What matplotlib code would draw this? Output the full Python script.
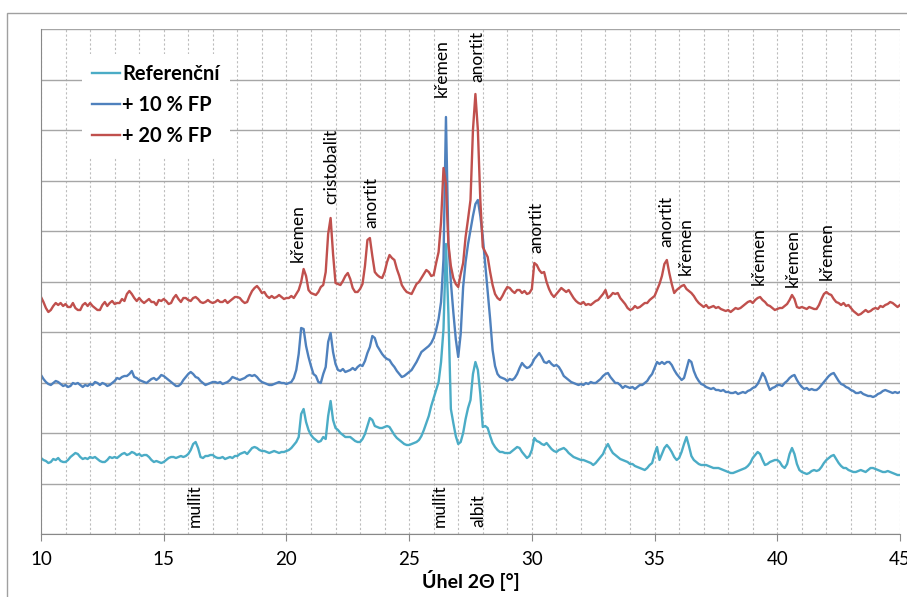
import matplotlib
matplotlib.use("Agg")
import matplotlib.pyplot as plt
from matplotlib.patches import Rectangle
import numpy as np

plt.rcParams["font.family"] = ["Lato", "DejaVu Sans"]

# 2-theta grid of the scan, 10.0 .. 45.0 step 0.1
two_theta = np.round(np.arange(100, 451) / 10, 1)

# intensities (arbitrary units, series already offset)
referencni = [
    76, 74, 73, 71, 72, 75, 74, 76, 73, 72,
    72, 74, 77, 79, 81, 80, 77, 75, 76, 75,
    77, 76, 77, 75, 73, 72, 72, 74, 77, 76,
    77, 76, 78, 80, 81, 79, 80, 82, 81, 79,
    80, 78, 79, 79, 77, 74, 72, 73, 72, 71,
    72, 74, 76, 77, 77, 76, 77, 78, 77, 78,
    80, 84, 90, 92, 86, 77, 76, 78, 78, 79,
    79, 77, 76, 76, 77, 75, 76, 77, 76, 78,
    78, 80, 81, 82, 80, 83, 86, 87, 86, 84,
    83, 83, 82, 81, 82, 83, 82, 81, 82, 82,
    83, 84, 86, 89, 92, 97, 120, 125, 112, 104,
    99, 96, 94, 92, 93, 97, 95, 118, 133, 114,
    106, 104, 101, 99, 97, 97, 97, 95, 93, 92,
    92, 95, 100, 108, 116, 114, 108, 107, 106, 106,
    107, 108, 107, 103, 99, 96, 94, 92, 90, 89,
    89, 90, 91, 92, 94, 98, 104, 111, 118, 128,
    136, 144, 152, 172, 205, 290, 220, 125, 111, 98,
    90, 92, 101, 115, 126, 134, 160, 172, 164, 140,
    107, 108, 106, 98, 91, 87, 84, 82, 82, 81,
    81, 81, 83, 85, 87, 86, 82, 79, 76, 78,
    84, 96, 93, 92, 90, 89, 91, 88, 85, 83,
    82, 84, 85, 86, 84, 81, 79, 77, 76, 75,
    74, 74, 73, 72, 71, 69, 71, 74, 77, 80,
    86, 90, 85, 81, 79, 77, 75, 74, 73, 72,
    70, 70, 68, 67, 66, 65, 64, 66, 69, 71,
    80, 87, 74, 80, 86, 89, 86, 82, 77, 74,
    76, 82, 90, 97, 88, 78, 74, 72, 70, 69,
    69, 69, 68, 67, 66, 66, 66, 65, 64, 63,
    62, 61, 61, 62, 63, 64, 65, 66, 68, 71,
    76, 79, 82, 80, 74, 69, 70, 72, 73, 74,
    74, 72, 68, 66, 70, 80, 86, 80, 70, 64,
    62, 61, 60, 61, 63, 64, 63, 64, 67, 71,
    74, 76, 78, 79, 75, 71, 68, 66, 66, 64,
    63, 62, 62, 63, 64, 63, 62, 64, 66, 66,
    65, 64, 63, 62, 62, 63, 62, 61, 60, 59,
    59,
]

fp10 = [
    159, 155, 152, 150, 149, 151, 153, 152, 150, 148,
    149, 147, 148, 151, 150, 151, 149, 147, 149, 148,
    150, 149, 152, 151, 149, 151, 150, 148, 149, 151,
    153, 156, 155, 157, 158, 158, 160, 163, 157, 156,
    154, 153, 152, 151, 153, 155, 156, 154, 156, 159,
    158, 156, 154, 152, 150, 148, 148, 150, 154, 157,
    160, 162, 160, 157, 156, 153, 151, 149, 150, 151,
    152, 152, 151, 152, 150, 151, 152, 154, 157, 156,
    155, 154, 155, 156, 158, 159, 158, 159, 157, 154,
    152, 151, 150, 149, 149, 150, 151, 152, 151, 151,
    150, 151, 152, 156, 164, 180, 206, 205, 188, 177,
    168, 160, 158, 152, 151, 160, 167, 192, 201, 182,
    170, 164, 163, 165, 162, 163, 164, 166, 164, 167,
    169, 168, 173, 181, 187, 198, 196, 188, 184, 180,
    177, 175, 174, 170, 167, 163, 160, 157, 158, 160,
    162, 164, 168, 172, 177, 182, 184, 186, 188, 191,
    196, 204, 215, 232, 275, 417, 290, 252, 222, 195,
    177, 200, 247, 272, 290, 304, 318, 330, 334, 318,
    297, 270, 244, 215, 184, 168, 160, 157, 156, 155,
    153, 155, 154, 156, 160, 166, 171, 168, 166, 167,
    170, 175, 178, 181, 177, 172, 171, 173, 170, 168,
    169, 167, 163, 158, 156, 154, 152, 151, 150, 149,
    150, 149, 151, 150, 152, 151, 151, 153, 155, 158,
    160, 161, 157, 154, 151, 151, 149, 146, 148, 147,
    146, 147, 145, 147, 149, 149, 151, 153, 157, 160,
    166, 172, 170, 172, 170, 172, 172, 169, 164, 160,
    157, 154, 156, 165, 174, 172, 163, 157, 153, 150,
    149, 147, 146, 145, 146, 144, 144, 143, 144, 142,
    142, 141, 141, 142, 140, 141, 142, 141, 143, 144,
    146, 147, 150, 155, 161, 157, 150, 144, 146, 147,
    149, 149, 148, 151, 153, 156, 158, 159, 154, 150,
    147, 145, 146, 144, 145, 144, 144, 146, 149, 152,
    155, 158, 160, 161, 157, 153, 150, 149, 147, 146,
    144, 143, 141, 141, 142, 140, 139, 138, 138, 137,
    138, 140, 141, 143, 144, 143, 142, 141, 142, 141,
    142,
]

fp20 = [
    237, 232, 226, 222, 224, 228, 231, 229, 231, 228,
    230, 227, 227, 231, 226, 224, 224, 229, 231, 228,
    231, 228, 226, 224, 224, 229, 232, 228, 231, 233,
    230, 231, 231, 235, 233, 240, 243, 240, 236, 233,
    236, 233, 231, 233, 235, 232, 232, 229, 234, 233,
    235, 233, 230, 231, 236, 239, 235, 232, 236, 236,
    234, 233, 236, 237, 235, 232, 231, 232, 234, 232,
    231, 232, 234, 232, 232, 234, 231, 233, 235, 237,
    237, 236, 233, 231, 232, 238, 243, 246, 248, 245,
    241, 242, 238, 236, 238, 236, 237, 239, 237, 235,
    236, 236, 238, 236, 240, 244, 252, 265, 258, 244,
    241, 240, 239, 242, 247, 249, 262, 300, 316, 280,
    251, 250, 249, 253, 258, 261, 255, 246, 242, 242,
    245, 250, 268, 294, 296, 278, 262, 259, 257, 256,
    262, 272, 279, 276, 274, 265, 258, 249, 245, 242,
    241, 240, 245, 250, 252, 256, 260, 264, 262, 258,
    259, 271, 282, 312, 366, 350, 290, 268, 256, 250,
    247, 260, 271, 297, 315, 334, 404, 440, 404, 334,
    287, 282, 277, 262, 249, 240, 236, 234, 238, 243,
    247, 246, 243, 241, 244, 244, 241, 243, 240, 241,
    245, 271, 269, 264, 261, 262, 252, 245, 240, 237,
    240, 243, 246, 244, 242, 244, 240, 236, 233, 231,
    230, 232, 229, 230, 229, 231, 233, 234, 237, 240,
    244, 236, 238, 241, 240, 241, 236, 233, 230, 226,
    224, 225, 228, 226, 227, 229, 231, 231, 234, 236,
    238, 244, 250, 258, 270, 274, 261, 250, 241, 244,
    246, 248, 249, 245, 243, 241, 238, 234, 231, 229,
    227, 229, 226, 227, 228, 226, 227, 225, 224, 223,
    224, 222, 224, 226, 225, 226, 228, 230, 232, 233,
    231, 234, 236, 237, 234, 232, 229, 228, 226, 224,
    225, 226, 226, 228, 230, 234, 239, 235, 227, 226,
    227, 226, 225, 227, 226, 225, 225, 229, 235, 240,
    242, 240, 239, 235, 232, 231, 229, 231, 228, 229,
    226, 223, 221, 219, 220, 222, 224, 222, 223, 225,
    226, 225, 228, 227, 229, 230, 232, 231, 229, 227,
    229,
]

series_names = ["Referenční", "+ 10 % FP", "+ 20 % FP"]
series_colors = ["#4bacc6", "#4f81bd", "#c0504d"]

# phase labels: text, 2-theta of label, intensity where the label starts
peak_labels = [
    ("křemen", 20.47, 272),
    ("cristobalit", 21.82, 330),
    ("anortit", 23.45, 306),
    ("křemen", 26.34, 437),
    ("anortit", 27.76, 452),
    ("anortit", 30.17, 281),
    ("anortit", 35.47, 287),
    ("křemen", 36.28, 259),
    ("křemen", 39.25, 249),
    ("křemen", 40.64, 247),
    ("křemen", 42.03, 254),
    ("mullit", 16.27, 7),
    ("mullit", 26.26, 7),
    ("albit", 27.81, 7),
]

fig = plt.figure(figsize=(9.07, 5.97), dpi=100)
ax = fig.add_axes([41 / 907, 1 - 534 / 597, 859 / 907, 505 / 597])

# grey frame around the chart area, like the spreadsheet export
fig.patches.append(Rectangle((7 / 907, -0.05), 1.0, 1.05 - 13 / 597,
                             transform=fig.transFigure, fill=False,
                             edgecolor="#a0a0a0", linewidth=1.0))

for ys, name, col in zip([referencni, fp10, fp20], series_names, series_colors):
    ax.plot(two_theta, ys, color=col, lw=1.7, label=name)

for txt, xp, yp in peak_labels:
    ax.text(xp, yp, txt, rotation=90, ha="center", va="bottom",
            fontsize=12.5, color="black")

ax.set_xlim(10, 45)
ax.set_ylim(0, 505)
ax.set_xticks(np.arange(10, 46, 5))
ax.set_xticks(np.arange(10, 46, 1), minor=True)
ax.set_yticks(np.linspace(0, 505, 11))
ax.set_yticklabels([])
ax.tick_params(axis="y", length=0)
ax.tick_params(axis="x", which="major", length=5, color="#888888",
               labelsize=13.5, pad=7)
ax.tick_params(axis="x", which="minor", length=0)

ax.grid(axis="y", color="#a6a6a6", lw=1.0)
ax.grid(axis="x", which="both", color="#bdbdbd", lw=0.8, ls=(0, (2, 2)))
ax.set_axisbelow(True)

for s in ["top", "right"]:
    ax.spines[s].set_visible(False)
for s in ["left", "bottom"]:
    ax.spines[s].set_color("#888888")

ax.set_xlabel("Úhel 2Θ [°]", fontsize=14, fontweight="bold", labelpad=2)

leg = ax.legend(loc="upper left", bbox_to_anchor=(0.036, 0.97), frameon=True,
                fancybox=False, edgecolor="none", framealpha=1.0,
                prop={"weight": "bold", "size": 14.5}, handlelength=1.4,
                handletextpad=0.1, labelspacing=0.55, borderpad=0.5)

plt.savefig("out.png", dpi=100)
